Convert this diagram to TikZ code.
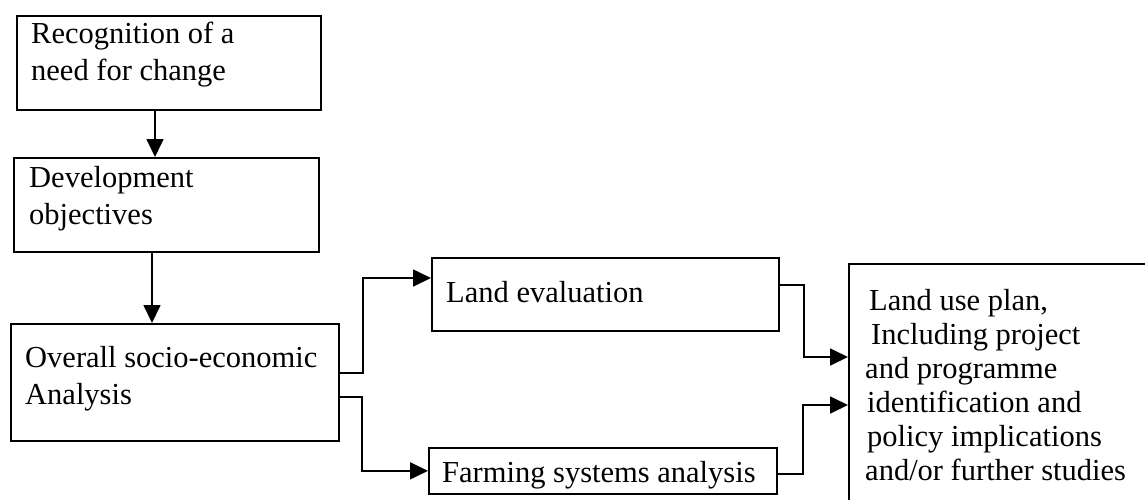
\documentclass[tikz,border=0pt]{standalone}
\usepackage{fontspec}
\setmainfont{Liberation Serif}
\usetikzlibrary{arrows.meta,calc}
\begin{document}
\begin{tikzpicture}[x=1pt,y=-1pt,
  box/.style={draw, line width=1.7pt, inner sep=0pt, anchor=north west},
  txt/.style={inner sep=0pt, anchor=north west, align=left, font=\fontsize{30.5}{36.5}\selectfont},
  txtr/.style={txt, font=\fontsize{30.5}{34}\selectfont},
  arr/.style={line width=1.7pt, -{Triangle[length=18pt,width=17pt]}}]
\useasboundingbox (0,0) rectangle (1145,499);
\clip (0,0) rectangle (1145,499);
% boxes
\node[box, minimum width=304pt, minimum height=94pt] (b1) at (16,15) {};
\node[box, minimum width=305pt, minimum height=94pt] (b2) at (13,157) {};
\node[box, minimum width=328pt, minimum height=117pt] (b3) at (10,323) {};
\node[box, minimum width=347pt, minimum height=73pt] (le) at (431,257) {};
\node[box, minimum width=348pt, minimum height=46pt] (fs) at (428,447) {};
\node[box, minimum width=330pt, minimum height=239pt] (plan) at (848,263) {};
% texts
\node[txt] (t1) at ($(b1.north west)+(15,7.2)$) {Recognition of a\\need for change};
\node[txt] (t2) at ($(b2.north west)+(16,9.2)$) {Development\\objectives};
\node[txt] (t3) at ($(b3.north west)+(15,23.2)$) {Overall socio-economic\\Analysis};
\node[txt] (t4) at ($(le.north west)+(15,24.2)$) {Land evaluation};
\node[txt] (t5) at ($(fs.north west)+(14,14.2)$) {Farming systems analysis};
\node[txtr] (t6) at ($(plan.north west)+(17,26.2)$) {\hspace*{4pt}Land use plan,\\\hspace*{6pt}Including project\\and programme\\\hspace*{2pt}identification and\\\hspace*{2pt}policy implications\\and/or further studies};
% connectors
\draw[arr] ([xshift=139pt]b1.south west) -- ([xshift=142pt]b2.north west);
\draw[arr] ([xshift=139pt]b2.south west) -- ([xshift=142pt]b3.north west);
\draw[arr] ([yshift=-50pt]b3.north east) -- ++(23,0) |- ([yshift=-21pt]le.north west);
\draw[arr] ([yshift=-74pt]b3.north east) -- ++(22,0) |- (fs.west);
\draw[arr] ([yshift=-28pt]le.north east) -- ++(24,0) |- ([yshift=-94pt]plan.north west);
\draw[arr] ([yshift=-27pt]fs.north east) -- ++(25,0) |- ([yshift=-142pt]plan.north west);
\end{tikzpicture}
\end{document}
